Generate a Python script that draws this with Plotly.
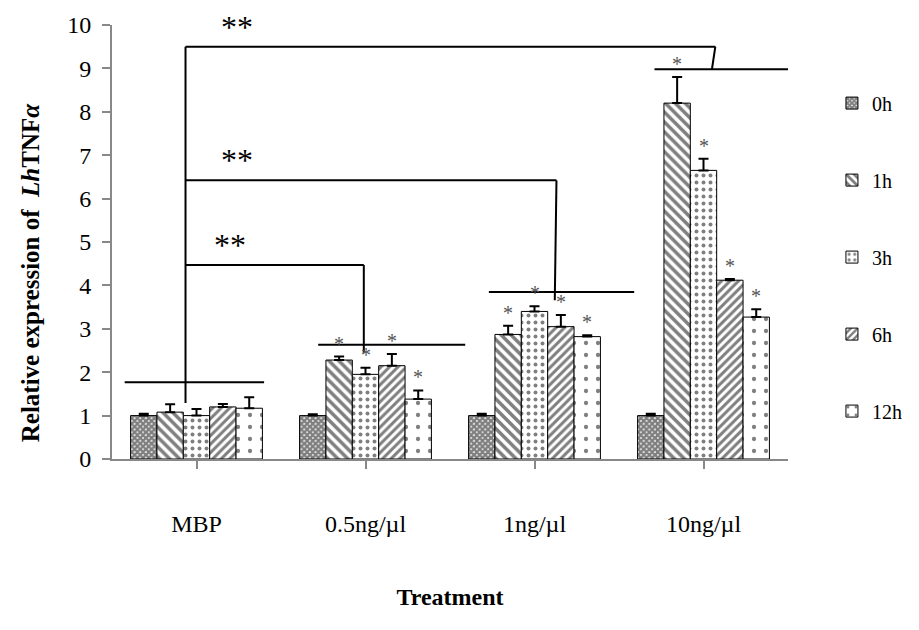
import plotly.graph_objects as go

treatments = ["MBP", "0.5ng/µl", "1ng/µl", "10ng/µl"]
times = ["0h", "1h", "3h", "6h", "12h"]
values = {
    "0h": [1.00, 1.00, 1.00, 1.00],
    "1h": [1.08, 2.28, 2.87, 8.20],
    "3h": [1.00, 1.95, 3.40, 6.65],
    "6h": [1.20, 2.15, 3.05, 4.12],
    "12h": [1.17, 1.38, 2.82, 3.27],
}
errors = {
    "0h": [0.04, 0.03, 0.04, 0.04],
    "1h": [0.18, 0.08, 0.20, 0.60],
    "3h": [0.15, 0.15, 0.12, 0.27],
    "6h": [0.07, 0.27, 0.27, 0.03],
    "12h": [0.25, 0.20, 0.03, 0.18],
}
star_groups = [1, 2, 3]
group_line_y = [1.77, 2.63, 3.85, 8.98]
compare_y = {1: 4.47, 2: 6.42, 3: 9.50}
compare_label = "**"

patterns = {
    "0h": dict(shape="x", size=4, solidity=0.85, fgcolor="black", bgcolor="white"),
    "1h": dict(shape="\\", size=7, solidity=0.5, fgcolor="black", bgcolor="white"),
    "3h": dict(shape=".", size=7, solidity=0.25, fgcolor="black", bgcolor="white"),
    "6h": dict(shape="/", size=6, solidity=0.5, fgcolor="black", bgcolor="white"),
    "12h": dict(shape=".", size=12, solidity=0.1, fgcolor="black", bgcolor="white"),
}

SERIF = "Liberation Serif, Times New Roman, serif"
bargap = 0.22
n = len(times)
bw = (1 - bargap) / n

fig = go.Figure()
for i, t in enumerate(times):
    fig.add_trace(go.Bar(
        x=list(range(len(treatments))), y=values[t], name=t,
        legendgroup=t,
        marker=dict(color="white", line=dict(color="black", width=1), pattern=patterns[t]),
        error_y=dict(type="data", symmetric=False, array=errors[t],
                     arrayminus=[0] * len(treatments), color="black", thickness=2, width=5),
    ))

for i, t in enumerate(times):
    if i == 0:
        continue
    for g in star_groups:
        xc = g + (i - (n - 1) / 2) * bw
        fig.add_annotation(x=xc, y=values[t][g] + errors[t][g], text="*", showarrow=False,
                           yanchor="bottom", yshift=0, font=dict(family=SERIF, size=20, color="#555"))

line = dict(color="black", width=2)
grp_ext = [(-0.425, 0.40), (-0.28, 0.59), (-0.27, 0.59), (-0.29, 0.51)]
for g, yv in enumerate(group_line_y):
    fig.add_shape(type="line", x0=g + grp_ext[g][0], x1=g + grp_ext[g][1], y0=yv, y1=yv, line=line)

stem_x = -0.065
fig.add_shape(type="line", x0=stem_x, x1=stem_x, y0=1.29, y1=max(compare_y.values()), line=line)
drop_x = {1: (0.99, 0.99), 2: (2.13, 2.12), 3: (3.07, 3.05)}
drop_bottom = {1: 2.45, 2: 3.66, 3: group_line_y[3]}
label_x = {1: 0.2, 2: 0.24, 3: 0.24}
for g, yv in compare_y.items():
    fig.add_shape(type="line", x0=stem_x, x1=drop_x[g][0], y0=yv, y1=yv, line=line)
    fig.add_shape(type="line", x0=drop_x[g][0], x1=drop_x[g][1], y0=yv, y1=drop_bottom[g], line=line)
    fig.add_annotation(x=label_x[g], y=yv, text=compare_label, showarrow=False, yanchor="bottom", yshift=0,
                       font=dict(family=SERIF, size=32, color="black"))

fig.add_annotation(xref="paper", yref="paper", x=-0.12, y=0.43, xanchor="center", yanchor="middle",
                   text="<b>Relative expression of  <i>Lh</i>TNF<i>α</i></b>", textangle=-90,
                   showarrow=False, font=dict(family=SERIF, size=25, color="black"))

fig.update_layout(
    width=919, height=630,
    margin=dict(l=112, r=129, t=16, b=171),
    plot_bgcolor="white", paper_bgcolor="white",
    barmode="group", bargap=bargap, bargroupgap=0,
    font=dict(family=SERIF, size=24, color="black"),
    showlegend=True,
    legend=dict(x=1.065, y=0.865, yanchor="top", xanchor="left", tracegroupgap=48,
                font=dict(family=SERIF, size=20), itemwidth=30, bgcolor="rgba(0,0,0,0)"),
    xaxis=dict(
        tickmode="array", tickvals=list(range(len(treatments))), ticktext=treatments,
        range=[-0.5, len(treatments) - 0.5],
        showline=True, linecolor="#888", linewidth=2, ticks="outside", tickcolor="#888",
        ticklen=8, tickwidth=2, showgrid=False, zeroline=False,
        ticklabelstandoff=34, tickfont=dict(size=24),
        title=dict(text="<b>Treatment</b>", font=dict(family=SERIF, size=24), standoff=52),
    ),
    yaxis=dict(
        range=[0, 10], dtick=1, showline=True, linecolor="#888", linewidth=2,
        ticks="outside", tickcolor="#888", ticklen=8, tickwidth=2, showgrid=False,
        zeroline=False, ticklabelstandoff=6, tickfont=dict(size=24),
    ),
)
fig.write_html("out.html")
